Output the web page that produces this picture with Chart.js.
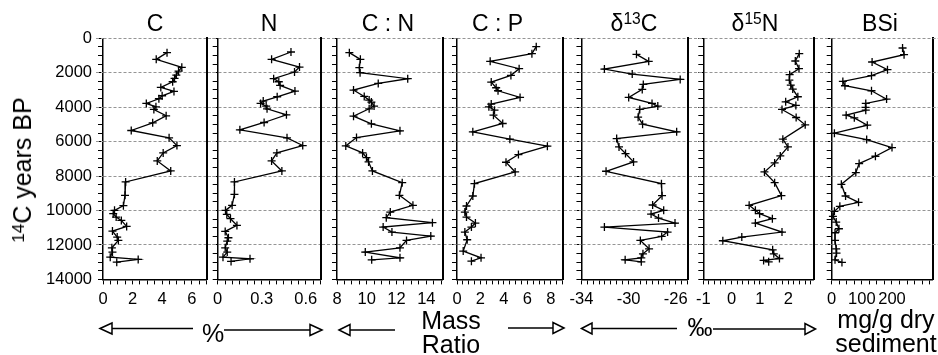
<!DOCTYPE html>
<html><head><meta charset="utf-8">
<script src="https://cdn.jsdelivr.net/npm/chart.js@4/dist/chart.umd.min.js"></script>
<style>
html,body{margin:0;padding:0;background:#fff;}
#wrap{position:relative;width:938px;height:355px;overflow:hidden;font-family:'Liberation Sans',Arial,Helvetica,sans-serif;color:#000;}
canvas{position:absolute;top:0;}
.t{position:absolute;font-size:23px;line-height:23px;white-space:nowrap;transform:translateX(-50%);}
.b{position:absolute;font-size:25px;line-height:25px;white-space:nowrap;transform:translateX(-50%);}
.sp{font-size:0.68em;position:relative;top:-0.42em;}
#ytitle{position:absolute;left:24px;top:169.5px;font-size:25px;line-height:25px;white-space:nowrap;transform:translate(-50%,-50%) rotate(-90deg);}
svg{position:absolute;left:0;top:0;}
</style></head>
<body>
<div id="wrap">
  <div class="t" style="left:155px;top:12px">C</div>
  <div class="t" style="left:269px;top:12px">N</div>
  <div class="t" style="left:388px;top:12px">C : N</div>
  <div class="t" style="left:497.5px;top:12px">C : P</div>
  <div class="t" style="left:634px;top:12px">δ<span class="sp">13</span>C</div>
  <div class="t" style="left:755px;top:12px">δ<span class="sp">15</span>N</div>
  <div class="t" style="left:880px;top:12px">BSi</div>
  <div id="ytitle"><span class="sp">14</span>C years BP</div>
  <div class="b" style="left:213px;top:320.5px">%</div>
  <div class="b" style="left:451px;top:308px">Mass</div>
  <div class="b" style="left:451px;top:332px">Ratio</div>
  <div class="b" style="left:700px;top:315px">‰</div>
  <div class="b" style="left:886px;top:307px">mg/g dry</div>
  <div class="b" style="left:886px;top:331px">sediment</div>
  <svg width="938" height="355" viewBox="0 0 938 355">
    <g stroke="#000" stroke-width="1.5" fill="#fff">
      <line x1="112" y1="328.5" x2="193" y2="328.5"/>
      <polygon points="100,328.5 112,323 112,334"/>
      <line x1="224" y1="330" x2="310" y2="330"/>
      <polygon points="322,330 310,324.5 310,335.5"/>
      <line x1="350" y1="330" x2="395" y2="330"/>
      <polygon points="339,330 350,324.5 350,335.5"/>
      <line x1="508" y1="328" x2="553" y2="328"/>
      <polygon points="564,328 553,322.5 553,333.5"/>
      <line x1="592" y1="328.5" x2="677" y2="328.5"/>
      <polygon points="581.5,328.5 592,323 592,334"/>
      <line x1="713" y1="329" x2="805" y2="329"/>
      <polygon points="815.5,329 805,323.5 805,334.5"/>
    </g>
  </svg>
</div>
<script>
// ---- data ----
const yTicks = [0, 2000, 4000, 6000, 8000, 10000, 12000, 14000];

const cAge = [834,1222,1688,1901,2134,2328,2522,2852,3085,3337,3511,3783,3977,4132,4500,4908,5354,5781,6227,6654,7120,7702,8342,9118,9719,9991,10185,10379,10573,10922,11194,11543,11737,12164,12416,12707,12843,12998];
const cVal = [4.33,3.60,5.33,5.11,4.96,4.84,4.71,3.91,4.80,4.00,3.78,2.93,3.58,3.44,4.27,3.36,1.91,4.47,5.00,4.07,3.67,4.58,1.53,1.49,1.38,0.78,0.69,0.89,1.24,1.60,0.64,0.96,1.04,0.60,0.64,0.49,2.38,0.93];
const cTicks = [0, 2, 4, 6];

const nAge = [795,1222,1668,1959,2347,2522,2735,3065,3395,3647,3783,3938,4093,4443,4889,5316,5781,6227,6654,7120,7702,8342,9060,9700,9991,10224,10476,10864,11213,11582,11776,12164,12416,12707,12804,12959];
const nVal = [0.499,0.367,0.557,0.523,0.381,0.416,0.425,0.526,0.405,0.31,0.292,0.330,0.336,0.468,0.316,0.151,0.472,0.579,0.403,0.367,0.437,0.114,0.114,0.098,0.053,0.062,0.087,0.131,0.051,0.073,0.065,0.051,0.065,0.036,0.22,0.091];
const nTicks = [0, 0.3, 0.6];

const cnAge = [834,1222,1707,1998,2347,2619,3007,3376,3589,3705,3938,4093,4520,4966,5374,5762,6247,6654,6926,7178,7702,8381,9118,9700,10088,10418,10709,10961,11252,11485,11737,12164,12416,12746,12862];
const cnVal = [8.83,9.57,9.50,9.55,12.75,10.77,9.11,9.83,10.16,10.31,10.49,10.16,9.11,10.31,12.23,9.31,8.59,9.72,9.98,10.12,10.38,12.38,12.19,13.10,11.58,11.31,14.41,11.10,11.69,14.30,12.67,12.23,9.90,12.23,10.33];
const cnTicks = [8, 10, 12, 14];

const cpAge = [485,892,1339,1765,2153,2541,2871,3046,3434,3822,3977,4171,4462,4947,5432,5859,6266,6751,7197,7760,8439,9157,9739,10088,10379,10728,10961,11252,11698,12358,12746,12940];
const cpVal = [6.76,6.39,2.83,5.30,4.60,2.92,3.34,3.50,5.38,2.92,2.72,3.20,3.11,3.90,1.35,4.51,7.71,5.24,4.18,4.96,1.49,1.35,0.81,0.67,0.81,1.57,1.23,0.67,0.87,0.53,2.05,1.23];
const cpTicks = [0, 2, 4, 6, 8];

const d13Age = [931,1339,1785,2076,2386,2677,2968,3434,3783,3938,4132,4578,4986,5432,5820,6305,6693,7178,7721,8439,9137,9681,9991,10204,10437,10728,10961,11252,11504,11737,12222,12513,12746,12862,12979];
const d13Val = [-29.33,-28.29,-32.05,-29.69,-25.62,-28.75,-28.84,-29.99,-28.01,-27.52,-29.05,-29.19,-28.81,-25.92,-31.01,-30.81,-30.26,-29.58,-31.91,-27.21,-27.16,-27.96,-27.02,-28.09,-27.46,-26.06,-32.05,-26.69,-27.19,-29.00,-28.26,-28.78,-28.92,-30.29,-28.92];
const d13Ticks = [-34, -30, -26];

const d15Age = [892,1319,1765,2115,2425,2716,2949,3395,3686,3899,4132,4598,5025,5859,6305,6829,7236,7760,8381,9137,9700,9991,10185,10476,10728,11252,11543,11756,12280,12513,12785,12901,12979];
const d15Val = [2.39,2.25,2.38,2.05,2.04,2.09,2.16,2.34,1.91,2.27,1.78,2.28,2.60,1.81,1.99,1.72,1.52,1.16,1.52,1.76,0.62,0.84,0.99,1.44,0.84,1.78,0.36,-0.31,1.45,1.49,1.69,1.13,1.31];
const d15Ticks = [-1, 0, 1, 2];

const bsiAge = [563,951,1377,1824,2173,2503,2755,3046,3531,3783,4016,4171,4462,4617,5044,5510,5878,6344,6848,7275,7799,8478,9157,9525,9758,10049,10340,10670,11058,11291,11737,12222,12474,12862,13017];
const bsiVal = [235,240,134,185,132,37,44,132,182,113,112,113,48,75,118,9,116,200,145,91,80,32,46,89,27,9,4,15,24,11,11,15,16,11,34];
const bsiTicks = [0, 100, 200];

// ---- layout of panels (pixel frame and axis range) ----
const PANELS = [
  {age:cAge,   val:cVal,   ticks:cTicks,   L:103,   R:208,   min:0,   max:7,    step:0.5},
  {age:nAge,   val:nVal,   ticks:nTicks,   L:217.7, R:322,   min:0,   max:0.7,  step:0.05},
  {age:cnAge,  val:cnVal,  ticks:cnTicks,  L:337,   R:443.5, min:8,   max:15.1, step:0.5},
  {age:cpAge,  val:cpVal,  ticks:cpTicks,  L:457,   R:564,   min:0,   max:9,    step:0.5},
  {age:d13Age, val:d13Val, ticks:d13Ticks, L:580,   R:689,   min:-34, max:-25,  step:0.5},
  {age:d15Age, val:d15Val, ticks:d15Ticks, L:703.3, R:815,   min:-1,  max:2.9,  step:0.2},
  {age:bsiAge, val:bsiVal, ticks:bsiTicks, L:831.7, R:935.7, min:0,   max:335,  step:25}
];
const W = 938, H = 355, TOP = 38.3, BOTTOM = 279.4;
const GRID = '#959595';

Chart.defaults.font.family = "'Liberation Sans', Arial, Helvetica, sans-serif";
Chart.defaults.color = '#000';

function lbl(list, v) {
  const m = list.find(t => Math.abs(t - v) < 1e-6);
  return m === undefined ? '' : String(m);
}
function align(p) { return Math.round(p - 0.5) + 0.5; }

const gapGrid = {
  id: 'gapGrid',
  beforeDatasetsDraw(chart, args, opts) {
    const ys = chart.scales.y, ctx = chart.ctx, a = chart.chartArea;
    ctx.save();
    ctx.strokeStyle = GRID; ctx.lineWidth = 1; ctx.setLineDash([3, 2]);
    yTicks.forEach(v => {
      if (v >= 14000) return;
      const py = align(ys.getPixelForValue(v));
      ctx.beginPath();
      if (opts.from != null) { ctx.moveTo(opts.from, py); ctx.lineTo(a.left, py); }
      if (opts.to != null) { ctx.moveTo(a.right, py); ctx.lineTo(opts.to, py); }
      ctx.stroke();
    });
    ctx.restore();
  }
};

const wrap = document.getElementById('wrap');
PANELS.forEach((p, i) => {
  const last = i === PANELS.length - 1;
  const cl = i === 0 ? 0 : Math.floor(p.L) - 16;
  const cr = last ? W : Math.ceil(p.R) + 4;
  const cw = cr - cl;
  const canvas = document.createElement('canvas');
  canvas.width = cw; canvas.height = H;
  canvas.style.left = cl + 'px'; canvas.style.width = cw + 'px'; canvas.style.height = H + 'px';
  wrap.insertBefore(canvas, wrap.firstChild);
  const padL = p.L - cl, padR = cr - p.R;
  const from = i === 0 ? 96 : PANELS[i - 1].R - cl;
  const to = last ? cw : null;

  new Chart(canvas, {
    type: 'scatter',
    data: {
      datasets: [{
        data: p.age.map((a, k) => ({x: p.val[k], y: a})),
        showLine: true, tension: 0, clip: false,
        borderColor: '#000', borderWidth: 1.3,
        pointStyle: 'cross', pointRadius: 4, pointBorderWidth: 1.3,
        pointBorderColor: '#000', pointBackgroundColor: '#000'
      }]
    },
    options: {
      responsive: false, devicePixelRatio: 1, animation: false, events: [],
      layout: {padding: {top: TOP, left: 0, right: 0, bottom: 0}},
      plugins: {legend: {display: false}, tooltip: {enabled: false}, gapGrid: {from, to}},
      scales: {
        x: {
          type: 'linear', position: 'bottom', min: p.min, max: p.max,
          afterFit: s => { s.height = H - BOTTOM; },
          ticks: {stepSize: p.step, autoSkip: false, maxRotation: 0, minRotation: 0, includeBounds: false,
                  padding: 5.5, font: {size: 16.5}, color: '#000', callback: v => lbl(p.ticks, v)},
          grid: {drawOnChartArea: false, drawTicks: true, tickLength: 5, tickColor: '#000', tickWidth: 1},
          border: {display: true, color: '#000', width: 1.5}
        },
        y: {
          type: 'linear', position: 'left', min: 0, max: 14000, reverse: true,
          afterFit: s => { s.width = padL; },
          ticks: {display: i === 0, stepSize: 500, autoSkip: false, includeBounds: false,
                  padding: 6, font: {size: 16.5}, color: '#000', callback: v => lbl(yTicks, v)},
          grid: {drawOnChartArea: true, drawTicks: true, tickLength: 5, tickColor: '#000', tickWidth: 1,
                 tickBorderDash: [], lineWidth: 1,
                 color: c => (c.tick && c.tick.value % 2000 === 0 && c.tick.value < 14000) ? GRID : 'rgba(0,0,0,0)'},
          border: {display: true, color: '#000', width: 1.5, dash: [3, 2]}
        },
        y2: {
          type: 'linear', position: 'right', display: true,
          afterFit: s => { s.width = padR; },
          ticks: {display: false},
          grid: {display: false, drawTicks: false},
          border: {display: true, color: '#000', width: 2}
        }
      }
    },
    plugins: [gapGrid]
  });
});
</script>
</body></html>
